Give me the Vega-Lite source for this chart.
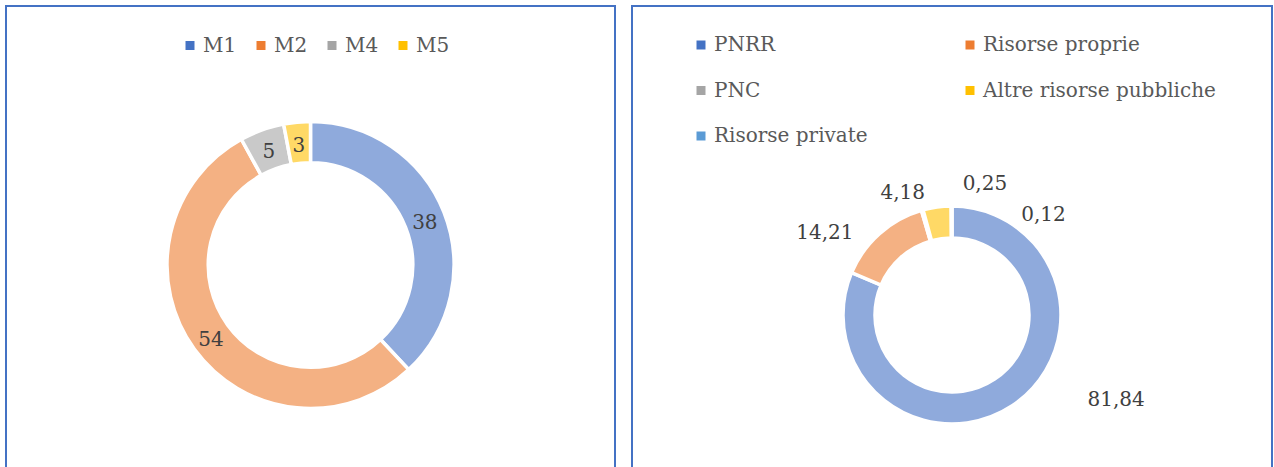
{
  "$schema": "https://vega.github.io/schema/vega-lite/v6.json",
  "background": "white",
  "padding": {"left": 5, "top": 5, "right": 0, "bottom": 0},
  "config": {
    "view": {"stroke": "#4472c4", "strokeWidth": 2},
    "style": {"cell": {"stroke": "#4472c4", "strokeWidth": 2}},
    "concat": {"spacing": 15},
    "font": "DejaVu Serif",
    "locale": {"number": {"decimal": ",", "thousands": ".", "grouping": [3], "currency": ["€", ""]}}
  },
  "resolve": {"scale": {"color": "independent", "theta": "independent"}, "legend": {"color": "independent"}},
  "hconcat": [
    {
      "width": 609,
      "height": 518,
      "view": {"stroke": "#4472c4", "strokeWidth": 2},
      "data": {"values": [
        {"missione": "M1", "valore": 38},
        {"missione": "M2", "valore": 54},
        {"missione": "M4", "valore": 5},
        {"missione": "M5", "valore": 3}
      ]},
      "transform": [{"window": [{"op": "row_number", "as": "n"}]}],
      "encoding": {
        "theta": {"field": "valore", "type": "quantitative", "stack": true},
        "order": {"field": "n", "type": "quantitative"},
        "color": {
          "field": "missione", "type": "nominal",
          "scale": {"domain": ["M1", "M2", "M4", "M5"], "range": ["#4472c4", "#ed7d31", "#a5a5a5", "#ffc000"]},
          "legend": {
            "orient": "none", "legendX": 174, "legendY": 29.5, "direction": "horizontal", "title": null,
            "symbolType": "square", "symbolSize": 81, "symbolStrokeWidth": 0, "symbolOpacity": 1,
            "labelFontSize": 20, "labelFont": "DejaVu Serif", "labelColor": "#595959",
            "labelOffset": 3, "columnPadding": 14
          }
        }
      },
      "layer": [
        {"mark": {"type": "arc", "outerRadius": 143.5, "innerRadius": 102.25, "stroke": "white", "strokeWidth": 3.5, "fillOpacity": 0.6}},
        {"mark": {"type": "text", "radius": 123, "dy": 3, "fontSize": 20, "font": "DejaVu Serif", "fill": "#404040"},
         "encoding": {"text": {"field": "valore", "type": "quantitative", "format": "d"}}}
      ]
    },
    {
      "width": 640,
      "height": 618,
      "view": {"stroke": "#4472c4", "strokeWidth": 2},
      "data": {"values": [
        {"fonte": "PNRR", "valore": 81.84},
        {"fonte": "Risorse proprie", "valore": 14.21},
        {"fonte": "PNC", "valore": 0.25},
        {"fonte": "Altre risorse pubbliche", "valore": 4.18},
        {"fonte": "Risorse private", "valore": 0.12}
      ]},
      "transform": [{"window": [{"op": "row_number", "as": "n"}]}],
      "encoding": {
        "theta": {"field": "valore", "type": "quantitative", "stack": true},
        "order": {"field": "n", "type": "quantitative"},
        "color": {
          "field": "fonte", "type": "nominal",
          "scale": {"domain": ["PNRR", "Risorse proprie", "PNC", "Altre risorse pubbliche", "Risorse private"], "range": ["#4472c4", "#ed7d31", "#a5a5a5", "#ffc000", "#5b9bd5"]},
          "legend": {
            "orient": "none", "legendX": 59, "legendY": 29, "columns": 2, "direction": "horizontal", "title": null,
            "symbolType": "square", "symbolSize": 81, "symbolStrokeWidth": 0, "symbolOpacity": 1,
            "labelFontSize": 20, "labelFont": "DejaVu Serif", "labelColor": "#595959",
            "labelOffset": 3, "columnPadding": 92, "rowPadding": 25.5, "labelLimit": 400
          }
        }
      },
      "layer": [
        {"mark": {"type": "arc", "outerRadius": 109, "innerRadius": 77, "stroke": "white", "strokeWidth": 3.5, "fillOpacity": 0.6}},
        {"mark": {"type": "text", "radius": 125, "dx": 95, "dy": -19, "fontSize": 20, "font": "DejaVu Serif", "fill": "#404040"},
         "encoding": {"text": {"condition": {"test": "datum.fonte === 'PNRR'", "field": "valore", "type": "quantitative", "format": ".2f"}, "value": ""}}},
        {"mark": {"type": "text", "radius": 125, "dx": -44, "dy": 11, "fontSize": 20, "font": "DejaVu Serif", "fill": "#404040"},
         "encoding": {"text": {"condition": {"test": "datum.fonte === 'Risorse proprie'", "field": "valore", "type": "quantitative", "format": ".2f"}, "value": ""}}},
        {"mark": {"type": "text", "radius": 125, "dx": 67, "dy": -11, "fontSize": 20, "font": "DejaVu Serif", "fill": "#404040"},
         "encoding": {"text": {"condition": {"test": "datum.fonte === 'PNC'", "field": "valore", "type": "quantitative", "format": ".2f"}, "value": ""}}},
        {"mark": {"type": "text", "radius": 125, "dx": -32, "dy": 2, "fontSize": 20, "font": "DejaVu Serif", "fill": "#404040"},
         "encoding": {"text": {"condition": {"test": "datum.fonte === 'Altre risorse pubbliche'", "field": "valore", "type": "quantitative", "format": ".2f"}, "value": ""}}},
        {"mark": {"type": "text", "radius": 125, "dx": 92, "dy": 25, "fontSize": 20, "font": "DejaVu Serif", "fill": "#404040"},
         "encoding": {"text": {"condition": {"test": "datum.fonte === 'Risorse private'", "field": "valore", "type": "quantitative", "format": ".2f"}, "value": ""}}}
      ]
    }
  ]
}
